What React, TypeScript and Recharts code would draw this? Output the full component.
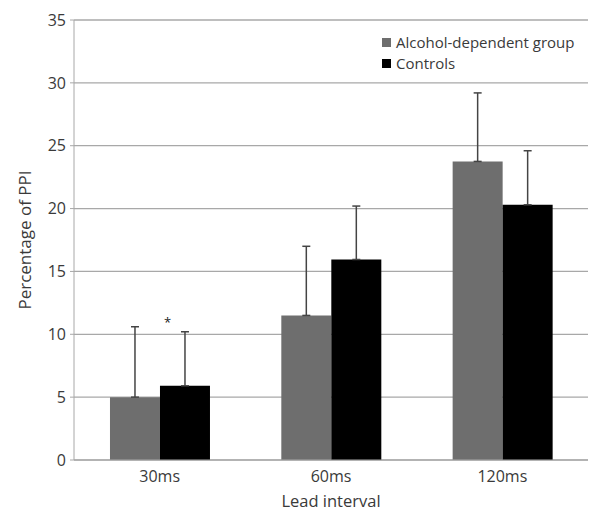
import React from 'react';
import {
  BarChart,
  Bar,
  XAxis,
  YAxis,
  CartesianGrid,
  ErrorBar,
  Label,
  ReferenceDot,
} from 'recharts';

const leadIntervals = ['30ms', '60ms', '120ms'];
const alcoholMeans = [5.0, 11.5, 23.75];
const alcoholErr = [5.6, 5.5, 5.45];
const controlMeans = [5.9, 15.95, 20.3];
const controlErr = [4.3, 4.25, 4.3];
const yTicks = [0, 5, 10, 15, 20, 25, 30, 35];
const seriesNames = ['Alcohol-dependent group', 'Controls'];
const seriesColors = ['#6e6e6e', '#000000'];
// significance marker above the 30ms pair
const starAt = { interval: '30ms', value: 10.95 };

const data = leadIntervals.map((name, i) => ({
  name,
  alcohol: alcoholMeans[i],
  alcoholErr: [0, alcoholErr[i]],
  controls: controlMeans[i],
  controlsErr: [0, controlErr[i]],
}));

const FONT = '"Open Sans", sans-serif';
const GRID = '#a8a8a8';
const TEXT = '#3a3a3a';

const Star = (props: any) => {
  const { viewBox } = props;
  return (
    <text x={viewBox.x + 8} y={viewBox.y + 5} textAnchor="middle" fontSize={13} fill="#222" fontFamily={FONT}>
      *
    </text>
  );
};

// legend drawn outside recharts so it doesn't eat into the plot area
const ChartLegend = () => (
  <div style={{ position: 'absolute', left: 382, top: 32, fontFamily: FONT, fontSize: 15, lineHeight: '21px', color: TEXT }}>
    {seriesNames.map((n, i) => (
      <div key={n} style={{ display: 'flex', alignItems: 'center' }}>
        <span style={{ width: 9, height: 9, background: seriesColors[i], marginRight: 5, display: 'inline-block' }} />
        {n}
      </div>
    ))}
  </div>
);

export default function App() {
  return (
    <div style={{ position: 'absolute', left: 0, top: 0, width: 589, height: 511, background: '#fff' }}>
      <BarChart
        width={589}
        height={511}
        data={data}
        margin={{ top: 20, right: 1, left: 0, bottom: 0 }}
        barGap={0}
        barCategoryGap="21%"
        style={{ fontFamily: FONT }}
      >
        <CartesianGrid vertical={false} stroke={GRID} strokeWidth={1.3} />
        <XAxis
          dataKey="name"
          height={51}
          stroke={GRID}
          tickLine={false}
          tickSize={6}
          tickMargin={5}
          tick={{ fill: TEXT, fontSize: 16 }}
        >
          <Label value="Lead interval" position="insideBottom" offset={4} fill={TEXT} fontSize={16.5} />
        </XAxis>
        <YAxis
          width={74}
          domain={[0, 35]}
          ticks={yTicks}
          stroke={GRID}
          tickSize={4}
          tickMargin={4}
          tick={{ fill: TEXT, fontSize: 16 }}
        >
          <Label value="Percentage of PPI" angle={-90} position="center" dx={-12} fill={TEXT} fontSize={17} />
        </YAxis>
        <Bar dataKey="alcohol" name={seriesNames[0]} fill={seriesColors[0]} isAnimationActive={false}>
          <ErrorBar dataKey="alcoholErr" direction="y" width={4} stroke="#444" strokeWidth={1.5} />
        </Bar>
        <Bar dataKey="controls" name={seriesNames[1]} fill={seriesColors[1]} isAnimationActive={false}>
          <ErrorBar dataKey="controlsErr" direction="y" width={4} stroke="#444" strokeWidth={1.5} />
        </Bar>
        <ReferenceDot
          x={starAt.interval}
          y={starAt.value}
          r={0}
          fill="none"
          stroke="none"
          label={<Star />}
        />
      </BarChart>
      <ChartLegend />
    </div>
  );
}
